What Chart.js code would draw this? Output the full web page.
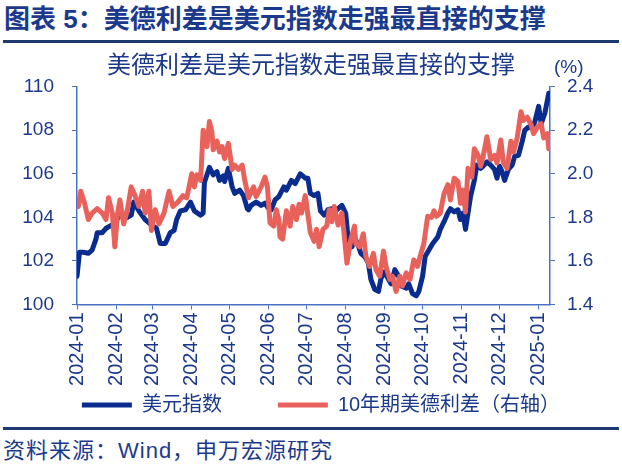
<!DOCTYPE html>
<html>
<head>
<meta charset="utf-8">
<script src="https://cdn.jsdelivr.net/npm/chart.js@4.4.1/dist/chart.umd.min.js"></script>
<style>
    body {
        margin: 0;
        width: 622px;
        height: 467px;
        background: #fff;
        position: relative;
        overflow: hidden;
        font-family: "Liberation Sans", "Noto Sans CJK SC", sans-serif;
        color: #1c3a8c;
    }
    #header {
        position: absolute;
        left: 4px;
        top: 3px;
        font-size: 26px;
        font-weight: bold;
        line-height: 32px;
        white-space: nowrap;
    }
    .rule {
        position: absolute;
        left: 3px;
        width: 616px;
        height: 3px;
        background: #1f3a70;
    }
    #rule-top { top: 40px; }
    #rule-bottom { top: 427px; }
    #source {
        position: absolute;
        left: 3px;
        top: 437px;
        font-size: 22px;
        letter-spacing: 1px;
        line-height: 28px;
        white-space: nowrap;
    }
    #chart-box {
        position: absolute;
        left: 0;
        top: 45px;
    }
</style>
</head>
<body>
<div id="header">图表 5：美德利差是美元指数走强最直接的支撑</div>
<div class="rule" id="rule-top"></div>
<div id="chart-box"><canvas id="dxyChart" width="622" height="380"></canvas></div>
<div class="rule" id="rule-bottom"></div>
<div id="source">资料来源：Wind，申万宏源研究</div>

<script>
// Month ticks on the x axis
const monthLabels = ['2024-01', '2024-02', '2024-03', '2024-04', '2024-05', '2024-06', '2024-07',
    '2024-08', '2024-09', '2024-10', '2024-11', '2024-12', '2025-01'];

// US dollar index (left axis)
const dxyDates = [
    '2024-01-01', '2024-01-03', '2024-01-06', '2024-01-10', '2024-01-13', '2024-01-16', '2024-01-17',
    '2024-01-21', '2024-01-24', '2024-01-27', '2024-01-30', '2024-02-04', '2024-02-10', '2024-02-13',
    '2024-02-15', '2024-02-19', '2024-02-24', '2024-02-28', '2024-03-04', '2024-03-07', '2024-03-11',
    '2024-03-15', '2024-03-18', '2024-03-20', '2024-03-23', '2024-03-27', '2024-03-31', '2024-04-03',
    '2024-04-08', '2024-04-10', '2024-04-11', '2024-04-15', '2024-04-18', '2024-04-21', '2024-04-23',
    '2024-04-26', '2024-04-27', '2024-04-30', '2024-05-03', '2024-05-05', '2024-05-09', '2024-05-12',
    '2024-05-15', '2024-05-16', '2024-05-18', '2024-05-22', '2024-05-26', '2024-05-29', '2024-06-01',
    '2024-06-03', '2024-06-06', '2024-06-09', '2024-06-13', '2024-06-15', '2024-06-19', '2024-06-22',
    '2024-06-26', '2024-06-30', '2024-07-02', '2024-07-04', '2024-07-07', '2024-07-10', '2024-07-12',
    '2024-07-15', '2024-07-18', '2024-07-21', '2024-07-25', '2024-07-29', '2024-08-01', '2024-08-03',
    '2024-08-06', '2024-08-08', '2024-08-11', '2024-08-13', '2024-08-16', '2024-08-19', '2024-08-21',
    '2024-08-24', '2024-08-27', '2024-08-29', '2024-09-01', '2024-09-04', '2024-09-06', '2024-09-09',
    '2024-09-12', '2024-09-14', '2024-09-18', '2024-09-20', '2024-09-23', '2024-09-26', '2024-09-28',
    '2024-10-01', '2024-10-03', '2024-10-06', '2024-10-09', '2024-10-13', '2024-10-15', '2024-10-18',
    '2024-10-21', '2024-10-23', '2024-10-26', '2024-10-29', '2024-10-31', '2024-11-02', '2024-11-04',
    '2024-11-06', '2024-11-08', '2024-11-11', '2024-11-13', '2024-11-16', '2024-11-18', '2024-11-21',
    '2024-11-24', '2024-11-27', '2024-11-29', '2024-12-01', '2024-12-03', '2024-12-05', '2024-12-08',
    '2024-12-11', '2024-12-13', '2024-12-16', '2024-12-19', '2024-12-21', '2024-12-24', '2024-12-27',
    '2024-12-29', '2025-01-01', '2025-01-03', '2025-01-06', '2025-01-09'
];
const dxyValues = [
    101.3, 102.4, 102.4, 102.35, 102.5, 103.0, 103.3,
    103.3, 103.5, 103.6, 103.7, 104.1, 104.0, 104.1,
    104.7, 104.3, 103.9, 103.7, 103.5, 102.8, 102.8,
    103.3, 103.4, 103.9, 104.3, 104.35, 104.7, 104.3,
    104.1, 104.2, 105.6, 106.3, 105.95, 106.1, 105.7,
    105.9, 105.65, 106.25, 105.4, 105.1, 105.25, 105.0,
    104.4, 104.35, 104.55, 104.7, 104.55, 104.65, 104.4,
    104.35, 104.8, 104.95, 105.4, 105.25, 105.7, 105.55,
    106.0, 105.8, 105.8, 105.1, 105.0, 105.1, 104.3,
    104.1, 104.35, 104.4, 104.35, 104.55, 104.2, 103.0,
    102.65, 103.1, 102.7, 102.35, 102.2, 101.9, 101.15,
    100.7, 100.6, 101.2, 101.5, 101.15, 100.95, 101.6,
    101.3, 100.85, 100.75, 100.95, 100.5, 100.4, 100.6,
    101.3, 102.2, 102.5, 102.8, 103.1, 103.45, 103.8,
    104.2, 104.4, 104.25, 104.35, 103.9, 104.2, 103.45,
    104.2, 104.95, 105.7, 106.4, 106.25, 106.35, 106.55,
    106.4, 106.2, 105.8, 106.35, 106.1, 105.7, 106.2,
    106.4, 106.8, 106.85, 107.5, 108.0, 108.15, 108.1,
    108.4, 109.1, 108.3, 108.8, 109.7
];

// 10Y US-German yield spread, % (right axis)
const spreadDates = [
    '2024-01-02', '2024-01-04', '2024-01-07', '2024-01-10', '2024-01-13', '2024-01-17', '2024-01-21',
    '2024-01-24', '2024-01-26', '2024-01-29', '2024-01-31', '2024-02-02', '2024-02-04', '2024-02-07',
    '2024-02-10', '2024-02-13', '2024-02-16', '2024-02-19', '2024-02-22', '2024-02-24', '2024-02-27',
    '2024-02-29', '2024-03-03', '2024-03-06', '2024-03-10', '2024-03-14', '2024-03-17', '2024-03-21',
    '2024-03-25', '2024-03-28', '2024-04-01', '2024-04-03', '2024-04-05', '2024-04-08', '2024-04-10',
    '2024-04-11', '2024-04-13', '2024-04-15', '2024-04-17', '2024-04-18', '2024-04-21', '2024-04-23',
    '2024-04-25', '2024-04-27', '2024-04-30', '2024-05-03', '2024-05-05', '2024-05-08', '2024-05-11',
    '2024-05-13', '2024-05-16', '2024-05-20', '2024-05-22', '2024-05-26', '2024-05-29', '2024-05-31',
    '2024-06-02', '2024-06-05', '2024-06-07', '2024-06-09', '2024-06-10', '2024-06-12', '2024-06-15',
    '2024-06-18', '2024-06-20', '2024-06-23', '2024-06-25', '2024-06-27', '2024-06-30', '2024-07-04',
    '2024-07-07', '2024-07-09', '2024-07-11', '2024-07-14', '2024-07-17', '2024-07-19', '2024-07-21',
    '2024-07-23', '2024-07-26', '2024-07-29', '2024-07-31', '2024-08-02', '2024-08-05', '2024-08-08',
    '2024-08-09', '2024-08-12', '2024-08-15', '2024-08-17', '2024-08-20', '2024-08-23', '2024-08-25',
    '2024-08-28', '2024-08-31', '2024-09-02', '2024-09-05', '2024-09-07', '2024-09-10', '2024-09-13',
    '2024-09-15', '2024-09-18', '2024-09-21', '2024-09-24', '2024-09-27', '2024-09-29', '2024-10-02',
    '2024-10-05', '2024-10-08', '2024-10-10', '2024-10-12', '2024-10-15', '2024-10-18', '2024-10-21',
    '2024-10-23', '2024-10-26', '2024-10-29', '2024-10-31', '2024-11-02', '2024-11-04', '2024-11-06',
    '2024-11-09', '2024-11-11', '2024-11-14', '2024-11-16', '2024-11-18', '2024-11-21', '2024-11-24',
    '2024-11-27', '2024-11-29', '2024-12-02', '2024-12-04', '2024-12-07', '2024-12-10', '2024-12-12',
    '2024-12-15', '2024-12-18', '2024-12-20', '2024-12-23', '2024-12-26', '2024-12-28', '2024-12-31',
    '2025-01-03', '2025-01-05', '2025-01-08', '2025-01-09'
];
const spreadValues = [
    1.85, 1.92, 1.865, 1.79, 1.82, 1.84, 1.82,
    1.79, 1.89, 1.82, 1.665, 1.81, 1.88, 1.77,
    1.835, 1.94, 1.90, 1.85, 1.92, 1.82, 1.92,
    1.74, 1.835, 1.77, 1.82, 1.92, 1.85, 1.87,
    1.90, 1.89, 2.00, 1.94, 1.995, 1.97, 2.20,
    2.185, 2.125, 2.24, 2.19, 2.11, 2.15, 2.10,
    2.125, 2.07, 2.14, 2.02, 2.04, 2.02, 2.04,
    1.97, 1.89, 1.94, 1.895, 1.94, 1.985, 1.94,
    1.775, 1.76, 1.835, 1.79, 1.71, 1.70, 1.83,
    1.76, 1.85, 1.79, 1.86, 1.82, 1.90, 1.73,
    1.69, 1.745, 1.665, 1.745, 1.76, 1.835, 1.78,
    1.85, 1.765, 1.82, 1.71, 1.59, 1.695, 1.76,
    1.68, 1.665, 1.725, 1.62, 1.575, 1.635, 1.56,
    1.53, 1.645, 1.575, 1.515, 1.53, 1.46, 1.53,
    1.485, 1.545, 1.515, 1.605, 1.575, 1.62, 1.68,
    1.805, 1.80, 1.83, 1.805, 1.82, 1.91, 1.95,
    1.88, 1.98, 1.965, 1.865, 1.925, 1.825, 2.025,
    1.985, 2.115, 2.085, 2.035, 2.08, 2.17, 2.065,
    2.085, 2.05, 2.155, 2.05, 2.025, 2.15, 2.10,
    2.165, 2.285, 2.245, 2.26, 2.225, 2.185, 2.215,
    2.23, 2.165, 2.185, 2.115
];

// Colours and fonts
const blue = '#0b2c8f';
const red = '#e8615b';
const axisColor = '#4a72c4';
const textColor = '#1c3a8c';
const fontFamily = '"Liberation Sans", "Noto Sans CJK SC", sans-serif';

// Days since 2024-01-01, used as the x value
const dayZero = Date.UTC(2024, 0, 1);
function dayOf(dateStr) {
    const [y, m, d] = dateStr.split('-').map(Number);
    return (Date.UTC(y, m - 1, d) - dayZero) / 86400000;
}

const monthStarts = monthLabels.map(label => dayOf(label + '-01'));
const dxyPoints = dxyDates.map((d, i) => ({ x: dayOf(d), y: dxyValues[i] }));
const spreadPoints = spreadDates.map((d, i) => ({ x: dayOf(d), y: spreadValues[i] }));

// "(%)" unit above the right axis
const percentLabel = {
    id: 'percentLabel',
    afterDraw(chart) {
        const { ctx } = chart;
        const right = chart.scales.y2;
        ctx.save();
        ctx.font = '19px ' + fontFamily;
        ctx.fillStyle = textColor;
        ctx.textAlign = 'left';
        ctx.textBaseline = 'middle';
        ctx.fillText('(%)', right.left + 4, 23);
        ctx.restore();
    }
};

// Nudge the legend row a little to the right
const legendShift = {
    id: 'legendShift',
    afterLayout(chart) {
        chart.legend.left += 10;
        chart.legend.right += 10;
    }
};

const tickFont = { family: fontFamily, size: 19 };

new Chart(document.getElementById('dxyChart').getContext('2d'), {
    type: 'line',
    data: {
        datasets: [{
            label: '美元指数',
            data: dxyPoints,
            yAxisID: 'y',
            borderColor: blue,
            backgroundColor: blue,
            borderWidth: 5,
            borderJoinStyle: 'round',
            borderCapStyle: 'round',
            pointRadius: 0,
            tension: 0,
            order: 1
        }, {
            label: '10年期美德利差（右轴）',
            data: spreadPoints,
            yAxisID: 'y2',
            borderColor: red,
            backgroundColor: red,
            borderWidth: 5,
            borderJoinStyle: 'round',
            borderCapStyle: 'round',
            pointRadius: 0,
            tension: 0,
            order: 0
        }]
    },
    options: {
        responsive: false,
        animation: false,
        devicePixelRatio: 1,
        layout: { padding: 0 },
        scales: {
            x: {
                type: 'linear',
                min: 0,
                max: 375,
                afterBuildTicks: scale => {
                    scale.ticks = monthStarts.map(v => ({ value: v }));
                },
                afterFit: scale => {
                    // the legend sits right under the axis box, so keep the box short
                    // and let the rotated labels run past it without clipping
                    scale.height = 34.5;
                    scale._computeLabelArea = () => undefined;
                },
                ticks: {
                    autoSkip: false,
                    minRotation: 90,
                    maxRotation: 90,
                    padding: 3,
                    color: textColor,
                    font: { family: fontFamily, size: 20 },
                    callback: (value, index) => monthLabels[index]
                },
                grid: { drawOnChartArea: false, drawTicks: true, tickLength: 5, color: axisColor },
                border: { color: axisColor, width: 1.5 }
            },
            y: {
                position: 'left',
                min: 100,
                max: 110,
                afterFit: scale => { scale.width = 77; },
                ticks: { stepSize: 2, padding: 18, color: textColor, font: tickFont },
                grid: { drawOnChartArea: false, drawTicks: true, tickLength: 5, color: axisColor },
                border: { color: axisColor, width: 1.5 }
            },
            y2: {
                position: 'right',
                min: 1.4,
                max: 2.4,
                afterFit: scale => { scale.width = 72; },
                ticks: {
                    stepSize: 0.2,
                    padding: 12,
                    color: textColor,
                    font: tickFont,
                    callback: v => v.toFixed(1)
                },
                grid: { drawOnChartArea: false, drawTicks: true, tickLength: 5, color: axisColor },
                border: { color: axisColor, width: 1.5 }
            }
        },
        plugins: {
            title: {
                display: true,
                text: '美德利差是美元指数走强最直接的支撑',
                color: textColor,
                font: { family: fontFamily, size: 24, weight: 'normal' },
                padding: { top: 6.6, bottom: 6.3 }
            },
            legend: {
                position: 'bottom',
                labels: {
                    usePointStyle: true,
                    pointStyle: 'line',
                    pointStyleWidth: 50,
                    padding: 56,
                    color: textColor,
                    font: { family: fontFamily, size: 20 },
                    sort: (a, b) => a.datasetIndex - b.datasetIndex
                }
            },
            tooltip: { enabled: false }
        }
    },
    plugins: [percentLabel, legendShift]
});
</script>
</body>
</html>
